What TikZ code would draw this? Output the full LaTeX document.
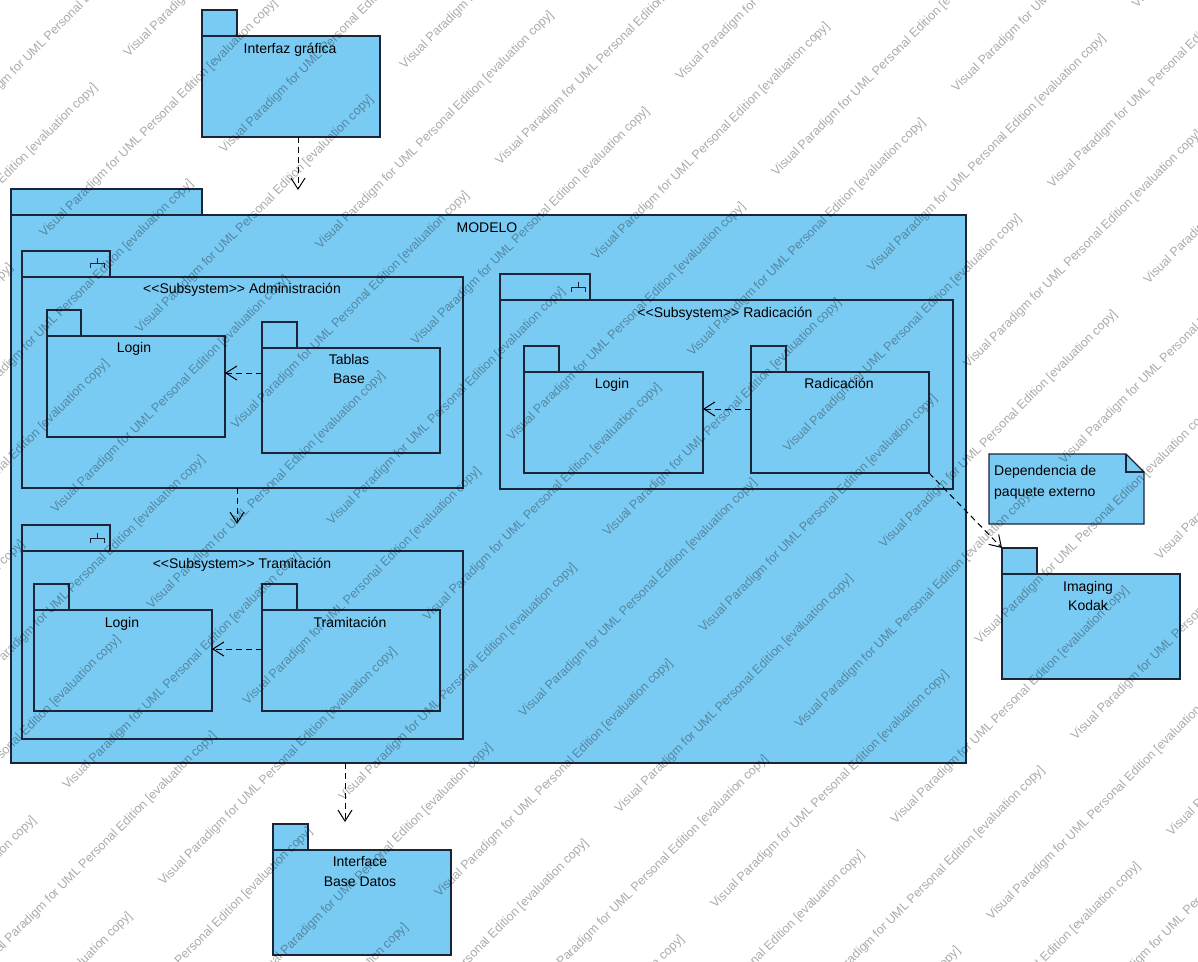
\documentclass[tikz,border=0pt]{standalone}
\usepackage{fontspec}
\setmainfont{Liberation Sans}
\usetikzlibrary{arrows.meta}
\definecolor{pkgfill}{RGB}{122,203,243}
\definecolor{pkgline}{RGB}{28,36,56}
\tikzset{
  pkg/.style={draw=pkgline, fill=pkgfill, line width=1.3pt, inner sep=0pt, outer sep=0pt, anchor=north west},
  pkgtab/.style={draw=pkgline, fill=pkgfill, line width=1.3pt},
  lbl/.style={font=\fontsize{14}{19}\selectfont, align=center, text=black, inner sep=0pt},
  deparrow/.style={draw=black, line width=1pt, dash pattern=on 6pt off 4pt,
    -{Straight Barb[length=11pt,width=14pt,line width=1pt]}},
  wm/.style={font=\fontsize{12.5}{14}\selectfont, text=black, text opacity=0.33,
    rotate=45, anchor=base west, inner sep=0pt},
  iconline/.style={draw=pkgline, line width=1pt}
}
\newcommand{\umlpack}[6]{%
  \path[pkgtab] (#2,#3) rectangle ++(#6,-26);
  \node[pkg, minimum width={(#4-#2)*1pt}, minimum height={(#5-#3)*1pt}] (#1) at (#2,#3) {};
}
\newcommand{\subsicon}[2]{%
  \path[iconline] (#1,#2) -- ++(0,5) (#1-7,#2+10) -- ++(0,-5) -- ++(14,0) -- ++(0,5);
}
\begin{document}
\begin{tikzpicture}[x=1pt,y=-1pt]
\useasboundingbox (0,0) rectangle (1198,961);
\fill[white] (0,0) rectangle (1198,961);

% packages
\umlpack{ig}{202}{36}{380}{137}{35}
\umlpack{modelo}{11}{215}{966}{763}{191}
\umlpack{adm}{22}{277}{463}{488}{88}
\umlpack{lgA}{47}{336}{225}{437}{34}
\umlpack{tb}{262}{348}{440}{453}{35}
\umlpack{tram}{22}{551}{463}{739}{88}
\umlpack{lgT}{34}{610}{212}{711}{35}
\umlpack{trp}{262}{610}{440}{711}{35}
\umlpack{rad}{500}{300}{953}{489}{90}
\umlpack{lgR}{524}{372}{703}{473}{35}
\umlpack{radp}{751}{372}{929}{473}{35}
\umlpack{kodak}{1002}{574}{1180}{679}{35}
\umlpack{ibd}{273}{850}{451}{955}{35}

% subsystem icons
\subsicon{97}{258}
\subsicon{97}{533}
\subsicon{578}{282}

% note
\node[minimum width=155pt, minimum height=70pt, anchor=north west, inner sep=0pt, outer sep=0pt] (note) at (989,454) {};
\path[pkgtab] (note.north west) -- ([xshift=-18pt]note.north east) -- ([yshift=-18pt]note.north east)
  -- (note.south east) -- (note.south west) -- cycle;
\path[pkgtab, fill=none] ([xshift=-18pt]note.north east) -- ([xshift=-18pt,yshift=-18pt]note.north east)
  -- ([yshift=-18pt]note.north east);

% labels
\node[lbl, anchor=base] (igt) at (290,53) {Interfaz gráfica};
\node[lbl, anchor=base] (modelot) at (487,232) {MODELO};
\node[lbl, anchor=base] (admt) at (242,293) {<{}<Subsystem>{}> Administración};
\node[lbl, anchor=base] (lgAt) at (134,352) {Login};
\node[lbl, anchor=north] (tbt) at (349,353.8) {Tablas\\Base};
\node[lbl, anchor=base] (tramt) at (242,568) {<{}<Subsystem>{}> Tramitación};
\node[lbl, anchor=base] (lgTt) at (122,627) {Login};
\node[lbl, anchor=base] (trpt) at (350,627) {Tramitación};
\node[lbl, anchor=base] (radt) at (725,317) {<{}<Subsystem>{}> Radicación};
\node[lbl, anchor=base] (lgRt) at (612,388) {Login};
\node[lbl, anchor=base] (radpt) at (839,388) {Radicación};
\node[lbl, anchor=north] (kodakt) at (1088,580.8) {Imaging\\Kodak};
\node[lbl, anchor=north, font=\fontsize{14}{20}\selectfont] (ibdt) at (360,855.8) {Interface\\Base Datos};
\node[lbl, anchor=north west, align=left, font=\fontsize{14}{21}\selectfont] (notet) at (994,464.8) {Dependencia de\\paquete externo};

% dependencies
\coordinate (igend) at (298,190);
\draw[deparrow] (ig.south -| igend) -- (igend);
\path ([yshift=-25pt]tb.north west) coordinate (a1);
\draw[deparrow] (a1) -- (a1 -| lgA.east);
\path ([yshift=-39pt]trp.north west) coordinate (a2);
\draw[deparrow] (a2) -- (a2 -| lgT.east);
\path ([yshift=-37pt]radp.north west) coordinate (a3);
\draw[deparrow] (a3) -- (a3 -| lgR.east);
\coordinate (tramtop) at (237,524);
\draw[deparrow] (adm.south -| tramtop) -- (tramtop);
\coordinate (ibdtop) at (345,822);
\draw[deparrow] (modelo.south -| ibdtop) -- (ibdtop);
\coordinate (kodaktab) at (1002,548);
\draw[deparrow] (radp.south east) -- (kodaktab);

% watermark
\begin{scope}
\clip (0,0) rectangle (1198,961);
\foreach \k in {-10,...,13}{
  \foreach \j in {-11,...,6}{
    \pgfmathsetmacro{\pp}{674+67.8*\k}
    \pgfmathsetmacro{\aa}{424+187*\k+374*\j}
    \pgfmathsetmacro{\wx}{(\aa+\pp)*0.7071}
    \pgfmathsetmacro{\wy}{(\pp-\aa)*0.7071}
    \node[wm] (wm\k x\j) at (\wx,\wy) {Visual Paradigm for UML Personal Edition [evaluation copy]};
  }
}
\end{scope}
\end{tikzpicture}
\end{document}
